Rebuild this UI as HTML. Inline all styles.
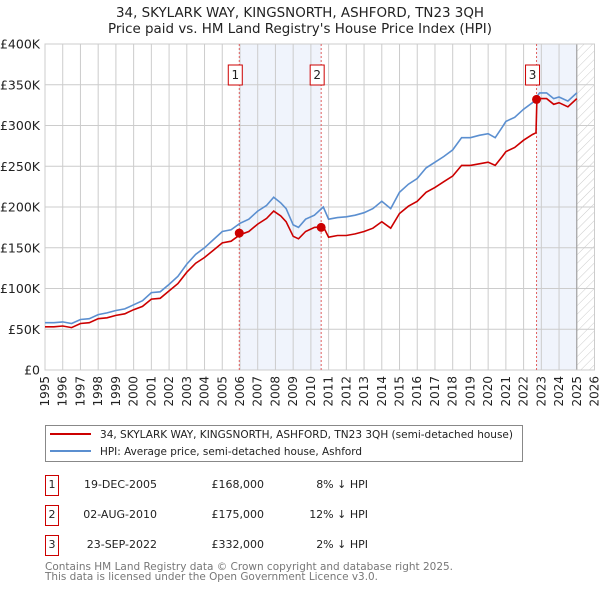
<!DOCTYPE html>
<html><head><meta charset="utf-8"><style>
body{margin:0;background:#fff;font-family:"Liberation Sans","DejaVu Sans",sans-serif;}
#wrap{position:relative;width:600px;height:590px;overflow:hidden}
svg text{font-family:"DejaVu Sans","Liberation Sans",sans-serif}
</style></head><body><div id="wrap">
<svg id="chart" width="600" height="590"></svg>
</div>
<script>
const hpiYears=[1995,1995.5,1996,1996.5,1997,1997.5,1998,1998.5,1999,1999.5,2000,2000.5,2001,2001.5,2002,2002.5,2003,2003.5,2004,2004.5,2005,2005.5,2006,2006.5,2007,2007.5,2007.9,2008.3,2008.6,2009,2009.3,2009.7,2010.2,2010.7,2011,2011.5,2012,2012.5,2013,2013.5,2014,2014.5,2015,2015.5,2016,2016.5,2017,2017.5,2018,2018.5,2019,2019.5,2020,2020.4,2020.8,2021,2021.5,2022,2022.5,2022.9,2023.3,2023.7,2024,2024.5,2025];
const hpiValues=[58,58,59,57,62,63,68,70,73,75,80,85,95,96,105,115,130,142,150,160,170,172,180,185,195,202,212,205,198,178,175,185,190,200,185,187,188,190,193,198,207,198,218,228,235,248,255,262,270,285,285,288,290,285,298,305,310,320,328,340,340,333,335,330,340];
const priceYears=[1995,1995.5,1996,1996.5,1997,1997.5,1998,1998.5,1999,1999.5,2000,2000.5,2001,2001.5,2002,2002.5,2003,2003.5,2004,2004.5,2005,2005.5,2006,2006.5,2007,2007.5,2007.9,2008.3,2008.6,2009,2009.3,2009.7,2010.2,2010.7,2011,2011.5,2012,2012.5,2013,2013.5,2014,2014.5,2015,2015.5,2016,2016.5,2017,2017.5,2018,2018.5,2019,2019.5,2020,2020.4,2020.8,2021,2021.5,2022,2022.5,2022.7,2022.75,2022.9,2023.3,2023.7,2024,2024.5,2025];
const priceValues=[53,53,54,52,57,58,63,64,67,69,74,78,87,88,97,106,120,131,138,147,156,158,166,170,179,186,195,189,182,164,161,170,175,176,163,165,165,167,170,174,182,174,192,201,207,218,224,231,238,251,251,253,255,251,262,268,273,282,289,291,332,333,333,326,328,323,333];
const saleLabels=["1","2","3"];
const saleYears=[2005.96,2010.58,2022.73];
const saleValues=[168,175,332];
const yTicks=[0,50,100,150,200,250,300,350,400];
const yTickLabels=["£0","£50K","£100K","£150K","£200K","£250K","£300K","£350K","£400K"];
const xTicks=[1995,1996,1997,1998,1999,2000,2001,2002,2003,2004,2005,2006,2007,2008,2009,2010,2011,2012,2013,2014,2015,2016,2017,2018,2019,2020,2021,2022,2023,2024,2025,2026];

const L=45,R=594.5,T=44,B=370,X0=1995,X1=2026,YMAX=400;
const x=v=>L+(v-X0)/(X1-X0)*(R-L);
const y=v=>B-v/YMAX*(B-T);
const NS="http://www.w3.org/2000/svg";
const svg=document.getElementById('chart');
function mk(tag,attrs,parent){const e=document.createElementNS(NS,tag);for(const k in attrs)e.setAttribute(k,attrs[k]);(parent||svg).appendChild(e);return e;}

const defs=mk('defs',{});
const pat=mk('pattern',{id:'hatch',width:6,height:6,patternUnits:'userSpaceOnUse',patternTransform:'rotate(45)'},defs);
mk('line',{x1:0,y1:0,x2:0,y2:6,stroke:'#ccc','stroke-width':1},pat);

let t=mk('text',{x:116,y:17,'font-size':13,fill:'#222',textLength:368,lengthAdjust:'spacingAndGlyphs'});t.textContent="34, SKYLARK WAY, KINGSNORTH, ASHFORD, TN23 3QH";


t=mk('text',{x:108,y:33,'font-size':13,fill:'#222',textLength:384,lengthAdjust:'spacingAndGlyphs'});t.textContent="Price paid vs. HM Land Registry's House Price Index (HPI)";



let r=mk('rect',{x:x(saleYears[0]),y:T,width:x(saleYears[1])-x(saleYears[0]),height:B-T,fill:'#f0f4fc'});


r=mk('rect',{x:x(saleYears[2]),y:T,width:x(2025)-x(saleYears[2]),height:B-T,fill:'#f0f4fc'});


r=mk('rect',{x:x(2025),y:T,width:R-x(2025),height:B-T,fill:'url(#hatch)'});



xTicks.forEach(v=>{const l=mk('line',{x1:x(v),x2:x(v),y1:T,y2:B,stroke:'#ccc','stroke-width':1});


const tx=mk('text',{transform:`translate(${x(v)+4},376) rotate(-90)`,'text-anchor':'end','font-size':12,fill:'#222'});tx.textContent=v;

});
yTicks.forEach((v,i)=>{const l=mk('line',{x1:L,x2:R,y1:y(v),y2:y(v),stroke:'#ccc','stroke-width':1});


const tx=mk('text',{x:40,y:y(v)+4.5,'text-anchor':'end','font-size':12.5,fill:'#222'});tx.textContent=yTickLabels[i];

});
let l=mk('line',{x1:x(2025),x2:x(2025),y1:T,y2:B,stroke:'#999','stroke-width':1});


r=mk('rect',{x:L,y:T,width:R-L,height:B-T,fill:'none',stroke:'#ccc'});



saleYears.forEach((v,i)=>{const vl=mk('line',{x1:x(v),x2:x(v),y1:T,y2:B,stroke:'#e06060','stroke-width':1,'stroke-dasharray':'2,2'});


const g=mk('g',{});


mk('rect',{x:x(v)-11,y:65,width:14,height:20,fill:'#fff',stroke:'#c00'},g);
const tx=mk('text',{x:x(v)-4,y:79,'text-anchor':'middle','font-size':12,fill:'#222'},g);tx.textContent=saleLabels[i];});

function path(xs,vs){return xs.map((a,i)=>(i?'L':'M')+x(a).toFixed(1)+','+y(vs[i]).toFixed(1)).join('');}
let p=mk('path',{d:path(hpiYears,hpiValues),fill:'none',stroke:'#5b8fd0','stroke-width':1.6});


p=mk('path',{d:path(priceYears,priceValues),fill:'none',stroke:'#cc0000','stroke-width':1.6});


saleYears.forEach((v,i)=>{const c=mk('circle',{cx:x(v),cy:y(saleValues[i]),r:4.5,fill:'#cc0000'});

});

const lg=mk('g',{});


mk('rect',{x:45.5,y:425.5,width:477,height:36,fill:'#fff',stroke:'#888'},lg);
mk('line',{x1:50,x2:91,y1:434,y2:434,stroke:'#cc0000','stroke-width':2},lg);
mk('line',{x1:50,x2:91,y1:451,y2:451,stroke:'#5b8fd0','stroke-width':2},lg);
t=mk('text',{x:100,y:438,'font-size':11,fill:'#222',textLength:413,lengthAdjust:'spacingAndGlyphs'},lg);t.textContent="34, SKYLARK WAY, KINGSNORTH, ASHFORD, TN23 3QH (semi-detached house)";


t=mk('text',{x:100,y:455,'font-size':11,fill:'#222',textLength:262,lengthAdjust:'spacingAndGlyphs'},lg);t.textContent="HPI: Average price, semi-detached house, Ashford";



const dates=["19-DEC-2005","02-AUG-2010","23-SEP-2022"],prices=["£168,000","£175,000","£332,000"],diffs=["8% ↓ HPI","12% ↓ HPI","2% ↓ HPI"];
[485.5,515.5,545.5].forEach((cy,i)=>{const g=mk('g',{});


mk('rect',{x:45.5,y:cy-10,width:13,height:20,fill:'#fff',stroke:'#c00'},g);
let a=mk('text',{x:52,y:cy+2.5,'text-anchor':'middle','font-size':11,fill:'#222'},g);a.textContent=i+1;
a=mk('text',{x:157,y:cy+2.5,'text-anchor':'end','font-size':11,fill:'#222'},g);a.textContent=dates[i];
a=mk('text',{x:264,y:cy+2.5,'text-anchor':'end','font-size':11,fill:'#222'},g);a.textContent=prices[i];
a=mk('text',{x:368,y:cy+2.5,'text-anchor':'end','font-size':11,fill:'#222'},g);a.textContent=diffs[i];});

t=mk('text',{x:45,y:570,'font-size':11,fill:'#777',textLength:408,lengthAdjust:'spacingAndGlyphs'});t.textContent="Contains HM Land Registry data © Crown copyright and database right 2025.";


t=mk('text',{x:45,y:580,'font-size':11,fill:'#777',textLength:333,lengthAdjust:'spacingAndGlyphs'});t.textContent="This data is licensed under the Open Government Licence v3.0.";


</script></body></html>
